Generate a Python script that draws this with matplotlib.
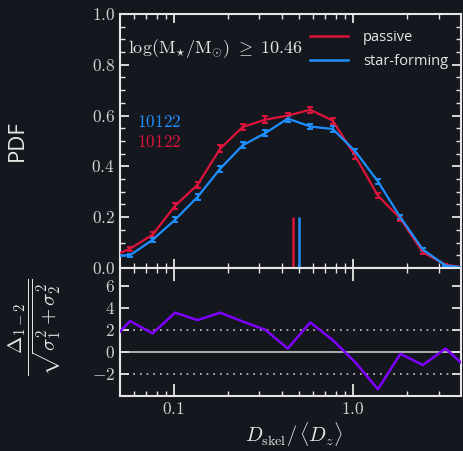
import numpy as np
import matplotlib
matplotlib.use("Agg")
import matplotlib.pyplot as plt
from matplotlib.lines import Line2D
from matplotlib.ticker import FixedLocator, FuncFormatter, NullFormatter, MultipleLocator

# ---- data -------------------------------------------------------------
# bin centres in D_skel / <D_z>
dist = [0.04265, 0.05695, 0.07607, 0.1016, 0.1357, 0.1813, 0.2421, 0.3234,
        0.4319, 0.5769, 0.7706, 1.0294, 1.375, 1.837, 2.453, 3.277, 4.377]
pdf_passive = [0.038, 0.076, 0.131, 0.245, 0.328, 0.470, 0.555, 0.584, 0.600,
               0.623, 0.580, 0.440, 0.285, 0.194, 0.061, 0.013, 0.000]
err_passive = [0.008, 0.008, 0.009, 0.011, 0.012, 0.013, 0.013, 0.013, 0.012,
               0.012, 0.012, 0.012, 0.011, 0.009, 0.007, 0.004, 0.002]
pdf_sf = [0.0455, 0.050, 0.111, 0.190, 0.280, 0.391, 0.483, 0.531, 0.588,
          0.557, 0.547, 0.459, 0.341, 0.199, 0.072, 0.010, 0.000]
err_sf = [0.006, 0.006, 0.008, 0.010, 0.011, 0.012, 0.012, 0.012, 0.012,
          0.011, 0.011, 0.011, 0.010, 0.008, 0.006, 0.003, 0.002]
significance = [0.65, 2.79, 1.67, 3.55, 2.88, 3.55, 2.75, 2.00, 0.30, 2.67,
                1.06, -0.95, -3.39, -0.18, -1.20, 0.30, -1.54]
median_passive = 0.46
median_sf = 0.50
n_passive = 10122
n_sf = 10122
mass_cut = 10.46

# ---- style ------------------------------------------------------------
BG = "#15171f"
FG = "#e6e6e6"
RED = "#dc143c"
BLUE = "#1e8fff"
PURPLE = "#7f00ff"

plt.rcParams["mathtext.fontset"] = "cm"
plt.rcParams["font.family"] = ["Open Sans", "DejaVu Sans"]

fig = plt.figure(figsize=(4.63, 4.51), dpi=100, facecolor=BG)
gs = fig.add_gridspec(2, 1, height_ratios=[254, 128], hspace=0,
                      left=0.259, right=0.9957, top=0.969, bottom=0.122)
ax = fig.add_subplot(gs[0])
axd = fig.add_subplot(gs[1], sharex=ax)

for a in (ax, axd):
    a.set_facecolor(BG)
    for s in a.spines.values():
        s.set_color(FG)
        s.set_linewidth(1.5)
    a.tick_params(which="both", direction="in", top=True, right=True,
                  colors=FG, labelcolor="#d2d2d2", labelsize=12.5)
    a.tick_params(which="major", length=6.5, width=1.3)
    a.tick_params(which="minor", length=3.8, width=1.0)

# ---- upper panel: PDFs --------------------------------------------------
ax.errorbar(dist, pdf_passive, yerr=err_passive, color=RED, lw=1.6,
            elinewidth=1.4, capsize=2.5, capthick=1.4, zorder=3)
ax.errorbar(dist, pdf_sf, yerr=err_sf, color=BLUE, lw=1.6,
            elinewidth=1.4, capsize=2.5, capthick=1.4, zorder=3)
ax.vlines(median_passive, 0, 0.2, color=RED, lw=1.8)
ax.vlines(median_sf, 0, 0.2, color=BLUE, lw=1.8)

ax.set_xscale("log")
ax.set_xlim(0.05, 4)
ax.set_ylim(0, 1.0)
ax.yaxis.set_major_locator(MultipleLocator(0.2))
ax.yaxis.set_minor_locator(MultipleLocator(0.05))
ax.yaxis.set_major_formatter(FuncFormatter(lambda v, p: f"${v:.1f}$"))
ax.tick_params(axis="x", labelbottom=False)

ax.text(0.025, 0.865, r"$\log(\mathrm{M}_{\star}/\mathrm{M}_{\odot})\ \geq\ %.2f$" % mass_cut,
        transform=ax.transAxes, color=FG, fontsize=13, va="center", ha="left")
ax.text(0.05, 0.57, f"${n_sf}$", transform=ax.transAxes, color=BLUE,
        fontsize=12.5, va="center", ha="left")
ax.text(0.05, 0.493, f"${n_passive}$", transform=ax.transAxes, color=RED,
        fontsize=12.5, va="center", ha="left")

handles = [Line2D([], [], color=RED, lw=1.8), Line2D([], [], color=BLUE, lw=1.8)]
leg = ax.legend(handles, ["passive", "star-forming"], loc="upper right",
                frameon=False, fontsize=10.5, handlelength=2.6,
                handletextpad=1.0, labelspacing=0.62,
                bbox_to_anchor=(1.0, 0.99))
for t in leg.get_texts():
    t.set_color(FG)

ax.set_ylabel("PDF", color=FG, fontsize=16)
ax.yaxis.set_label_coords(-0.27, 0.5)

# ---- lower panel: significance of the difference -------------------------
axd.axhline(0, color="#c8c8c8", lw=1.2, zorder=1)
axd.axhline(2, color="#c8c8c8", lw=1.2, ls=(0, (1, 3)), zorder=1)
axd.axhline(-2, color="#c8c8c8", lw=1.2, ls=(0, (1, 3)), zorder=1)
axd.plot(dist, significance, color=PURPLE, lw=1.8, zorder=3)
axd.set_ylim(-4, 7.6)
axd.yaxis.set_major_locator(FixedLocator([-2, 0, 2, 4, 6]))
axd.yaxis.set_minor_locator(FixedLocator([]))
axd.yaxis.set_major_formatter(FuncFormatter(lambda v, p: f"${v:.0f}$"))

axd.xaxis.set_major_locator(FixedLocator([0.1, 1.0]))
axd.xaxis.set_minor_locator(FixedLocator([0.06, 0.07, 0.08, 0.09, 0.2, 0.3, 0.4, 0.5,
                                          0.6, 0.7, 0.8, 0.9, 2, 3]))
axd.xaxis.set_major_formatter(FuncFormatter(lambda v, p: f"${v:.1f}$"))
axd.xaxis.set_minor_formatter(NullFormatter())
axd.tick_params(axis="x", which="major", length=9, pad=4)

axd.set_xlabel(r"$D_{\rm skel}/\,\langle D_z\rangle$", color=FG, fontsize=14.5)
axd.xaxis.set_label_coords(0.51, -0.19)
axd.set_ylabel(r"$\dfrac{\Delta_{1-2}}{\sqrt{\sigma_1^2+\sigma_2^2}}$", color=FG, fontsize=15)
axd.yaxis.set_label_coords(-0.167, 0.54)

fig.savefig("out.png", dpi=100, facecolor=BG)
